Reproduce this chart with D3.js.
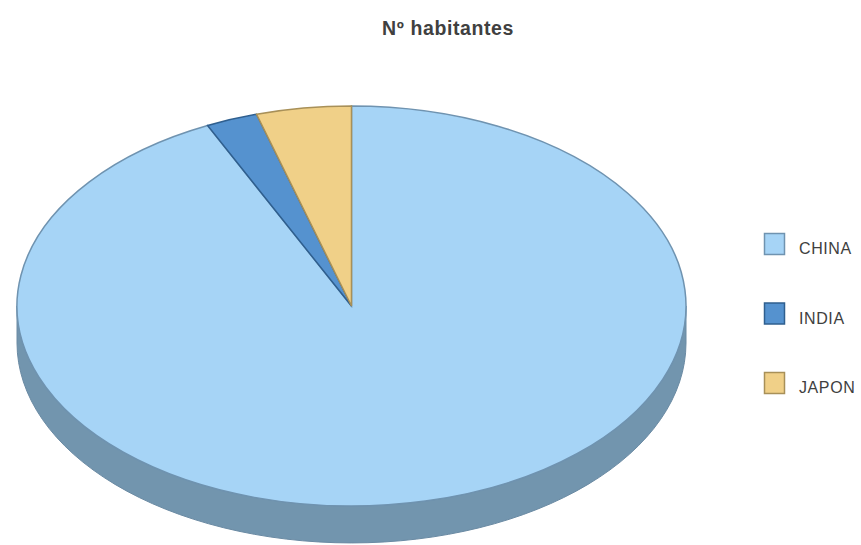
<!DOCTYPE html>
<html>
<head>
<meta charset="utf-8">
<script src="https://cdn.jsdelivr.net/npm/d3@7"></script>
<style>
  body { margin: 0; background: #fff; }
  text { font-family: "Liberation Sans", Arial, sans-serif; fill: #404040; }
</style>
</head>
<body>
<svg width="861" height="545"></svg>
<script>
// datos del grafico
var paises = ["CHINA", "INDIA", "JAPON"];
var habitantes = [1339, 36, 66];
var colores = ["#a6d4f6", "#5592cf", "#f0d088"];
var bordes = ["#6f93b0", "#2f5f8f", "#a89058"];
var colorLado = "#7295ae";

var svg = d3.select("svg"),
    cx = 351.5, cy = 306,
    rx = 334.5, ry = 200,
    depth = 37;

svg.append("text")
   .attr("x", 448).attr("y", 35)
   .attr("text-anchor", "middle")
   .style("font-size", "19.5px")
   .style("font-weight", "bold")
   .style("letter-spacing", "0.6px")
   .text("Nº habitantes");

var pie = d3.pie().sort(null)(habitantes);

function pt(a, dy) { // punto en la elipse
  return [cx + rx * Math.sin(a), cy - ry * Math.cos(a) + (dy || 0)];
}

// lados (solo la mitad delantera se ve)
pie.forEach(function(d, i) {
  var a0 = Math.max(d.startAngle, Math.PI / 2),
      a1 = Math.min(d.endAngle, 3 * Math.PI / 2);
  if (a1 <= a0) return;
  var p0 = pt(a0), p1 = pt(a1), q1 = pt(a1, depth), q0 = pt(a0, depth);
  svg.append("path")
     .attr("d", "M" + p0 + "A" + rx + "," + ry + " 0 0 1 " + p1 +
                "L" + q1 + "A" + rx + "," + ry + " 0 0 0 " + q0 + "Z")
     .attr("fill", colorLado)
     .attr("stroke", "#6a8aa3")
     .attr("stroke-width", 1);
});

// tapa
var arc = d3.arc().innerRadius(0).outerRadius(rx);
svg.append("g")
   .attr("transform", "translate(" + cx + "," + cy + ") scale(1," + (ry / rx) + ")")
   .selectAll("path")
   .data(pie)
   .enter().append("path")
   .attr("d", arc)
   .attr("fill", function(d, i) { return colores[i]; })
   .attr("stroke", function(d, i) { return bordes[i]; })
   .attr("stroke-width", 1.5)
   .attr("vector-effect", "non-scaling-stroke");

// leyenda
var leg = svg.append("g").selectAll("g")
   .data(paises)
   .enter().append("g")
   .attr("transform", function(d, i) { return "translate(764," + (233 + i * 69.5) + ")"; });

leg.append("rect")
   .attr("x", 0.5).attr("y", 0.5)
   .attr("width", 20).attr("height", 21)
   .attr("fill", function(d, i) { return colores[i]; })
   .attr("stroke", function(d, i) { return bordes[i]; })
   .attr("stroke-width", 1.5);

leg.append("text")
   .attr("x", 35).attr("y", 21)
   .style("font-size", "16px")
   .style("letter-spacing", "0.6px")
   .text(function(d) { return d; });
</script>
</body>
</html>
